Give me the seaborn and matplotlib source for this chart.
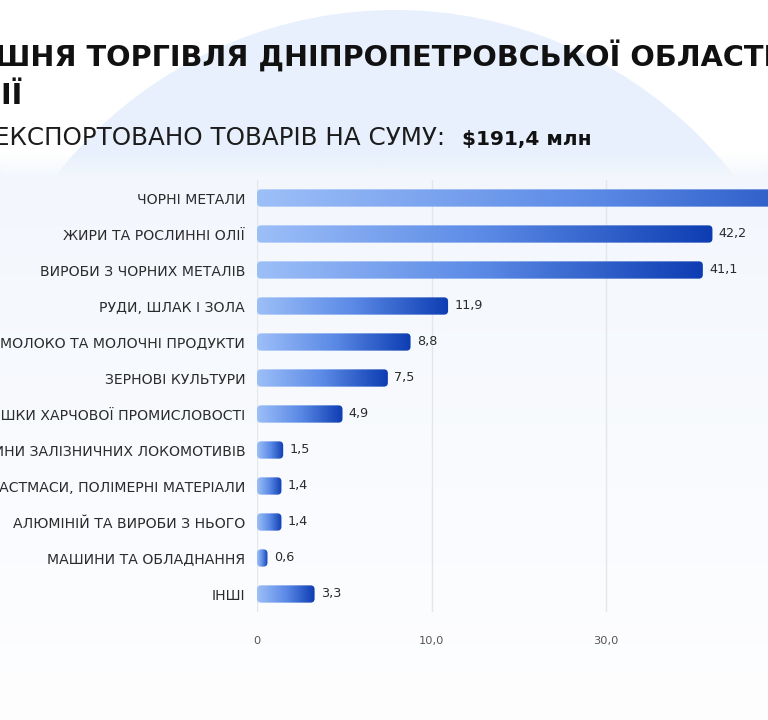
import numpy as np
import pandas as pd
import matplotlib
matplotlib.use("Agg")
import matplotlib.pyplot as plt
import seaborn as sns
from matplotlib.patches import Circle, FancyBboxPatch
from matplotlib.image import BboxImage
from matplotlib.transforms import Bbox, IdentityTransform
from matplotlib.colors import LinearSegmentedColormap

# ---------------- data ----------------
categories = [
    "ЧОРНІ МЕТАЛИ",
    "ЖИРИ ТА РОСЛИННІ ОЛІЇ",
    "ВИРОБИ З ЧОРНИХ МЕТАЛІВ",
    "РУДИ, ШЛАК І ЗОЛА",
    "МОЛОКО ТА МОЛОЧНІ ПРОДУКТИ",
    "ЗЕРНОВІ КУЛЬТУРИ",
    "ЗАЛИШКИ ХАРЧОВОЇ ПРОМИСЛОВОСТІ",
    "ЧАСТИНИ ЗАЛІЗНИЧНИХ ЛОКОМОТИВІВ",
    "ПЛАСТМАСИ, ПОЛІМЕРНІ МАТЕРІАЛИ",
    "АЛЮМІНІЙ ТА ВИРОБИ З НЬОГО",
    "МАШИНИ ТА ОБЛАДНАННЯ",
    "ІНШІ",
]
values = [66.8, 42.2, 41.1, 11.9, 8.8, 7.5, 4.9, 1.5, 1.4, 1.4, 0.6, 3.3]
tick_values = [0, 10, 30, 50]
tick_labels = ["0", "10,0", "30,0", "50,0"]
title_line1 = "ШНЯ ТОРГІВЛЯ ДНІПРОПЕТРОВСЬКОЇ ОБЛАСТІ"
title_line2 = "НІЇ"
subtitle = "ЕКСПОРТОВАНО ТОВАРІВ НА СУМУ:"
total_text = "$191,4 млн"

# ---------------- style ----------------
sns.set_theme(style="white")
plt.rcParams["font.family"] = ["DejaVu Sans"]

W, H = 768, 720
fig = plt.figure(figsize=(W / 100, H / 100), dpi=100, facecolor="white")

# background: large pale circle + light panel on top of it
bg = fig.add_axes([0, 0, 1, 1], zorder=-10)
bg.set_xlim(0, W)
bg.set_ylim(H, 0)
bg.axis("off")
bg.add_patch(Circle((395, 440), 430, facecolor="#e7f0fc", edgecolor="none",
                    zorder=0))
top, bot = 152, H
ys = np.arange(top, bot)
alpha = np.clip((ys - top) / 24.0, 0, 1)
t = np.clip((ys - 176) / (bot - 176), 0, 1)[:, None]
c_top = np.array([243, 247, 253]) / 255
c_bot = np.array([254, 254, 255]) / 255
rgb = c_top * (1 - t) + c_bot * t
rgba = np.concatenate([rgb, alpha[:, None]], axis=1)[:, None, :].repeat(2, axis=1)
bg.imshow(rgba, extent=[0, W, bot, top], aspect="auto", origin="upper",
          interpolation="bilinear", zorder=1)
bg.set_xlim(0, W)
bg.set_ylim(H, 0)

# ---------------- main axes ----------------
ax_left, ax_right = 257, 955
ax_top, ax_bot = 180, 612
ax = fig.add_axes([ax_left / W, 1 - ax_bot / H, (ax_right - ax_left) / W,
                   (ax_bot - ax_top) / H])
ax.set_facecolor("none")

df = pd.DataFrame({"category": categories, "value": values})
sns.barplot(data=df, x="value", y="category", orient="h", width=0.48,
            color="#3f6fd6", saturation=1, ax=ax)

# piecewise scale with evenly spaced ticks
breaks = np.array(tick_values + [70], dtype=float)
steps = np.arange(len(breaks), dtype=float)


def fwd(x):
    x = np.asarray(x, dtype=float)
    y = np.interp(x, breaks, steps)
    y = np.where(x < breaks[0], (x - breaks[0]) / (breaks[1] - breaks[0]), y)
    y = np.where(x > breaks[-1], steps[-1] + (x - breaks[-1]) / (breaks[-1] - breaks[-2]), y)
    return y


def inv(y):
    y = np.asarray(y, dtype=float)
    x = np.interp(y, steps, breaks)
    x = np.where(y < steps[0], breaks[0] + y * (breaks[1] - breaks[0]), x)
    x = np.where(y > steps[-1], breaks[-1] + (y - steps[-1]) * (breaks[-1] - breaks[-2]), x)
    return x


ax.set_xscale("function", functions=(fwd, inv))
ax.set_xlim(0, 70)
ax.set_ylim(len(categories) - 0.5, -0.5)
ax.set_xticks(tick_values, tick_labels)
ax.set_xlabel("")
ax.set_ylabel("")
for s in ax.spines.values():
    s.set_visible(False)
ax.grid(axis="x", color="#e3e6eb", linewidth=1)
ax.grid(axis="y", visible=False)
ax.set_axisbelow(True)
ax.tick_params(axis="x", length=0, pad=17, labelsize=8.2, labelcolor="#555555")
ax.tick_params(axis="y", length=0, pad=8.5, labelsize=10.1, labelcolor="#2b2b2b")

value_labels = [f"{v:.1f}".replace(".", ",") for v in values]
ax.bar_label(ax.containers[0], labels=value_labels, padding=4.5,
             fontsize=9.2, color="#2b2b2b")

# ---------------- titles ----------------
t1 = fig.text(-5 / W, 1 - 67 / H, title_line1, fontsize=20, fontweight="bold",
              color="#111111", ha="left", va="baseline")
t2 = fig.text(23 / W, 1 - 104 / H, title_line2, fontsize=20, fontweight="bold",
              color="#111111", ha="right", va="baseline")
st = fig.text(445 / W, 1 - 145 / H, subtitle, fontsize=16, color="#1c1c1c",
              ha="right", va="baseline")
tt = fig.text(462 / W, 1 - 145 / H, total_text, fontsize=16, fontweight="bold",
              color="#111111", ha="left", va="baseline")

fig.canvas.draw()
renderer = fig.canvas.get_renderer()


def fit(txt, target):
    bb = txt.get_window_extent(renderer)
    txt.set_fontsize(txt.get_fontsize() * target / bb.width)


fit(t1, 776)
t2.set_fontsize(t1.get_fontsize())
fit(st, 451)
fit(tt, 130)

# ---------------- gradient rounded bars ----------------
fig.canvas.draw()
cmap = LinearSegmentedColormap.from_list("bar", ["#9dbff8", "#5b8ae6", "#0d3db2"])
grad = np.linspace(0, 1, 256)[None, :].repeat(2, axis=0)
for patch in ax.containers[0].patches:
    bb = patch.get_window_extent(renderer)
    x0, y0, x1, y1 = bb.x0, bb.y0, bb.x1, bb.y1
    w, h = x1 - x0, y1 - y0
    r = min(4.0, w / 2, h / 2)
    clip = FancyBboxPatch((x0, y0), w, h,
                          boxstyle=f"round,pad=0,rounding_size={r}",
                          transform=IdentityTransform())
    img = BboxImage(Bbox.from_extents(x0, y0, x1, y1), cmap=cmap,
                    interpolation="bilinear", zorder=2)
    img.set_data(grad)
    img.set_clip_path(clip)
    ax.add_artist(img)
    patch.set_visible(False)

fig.savefig("out.png", dpi=100, facecolor="white")
